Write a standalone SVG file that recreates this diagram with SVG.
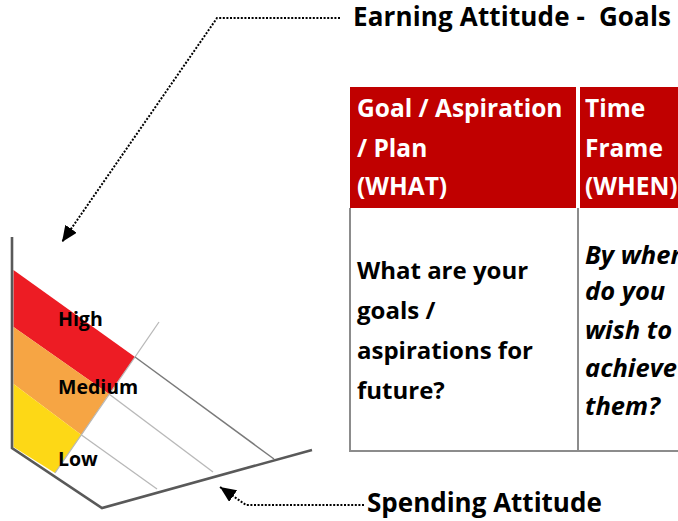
<svg xmlns="http://www.w3.org/2000/svg" width="678" height="521" viewBox="0 0 678 521">
  <style>
    .t { font-family: "Open Sans", "Liberation Sans", sans-serif; font-weight: 700; fill: #000; white-space: pre; }
    .hd { font-family: "Open Sans", "Liberation Sans", sans-serif; font-weight: 700; fill: #fff; font-size: 24.5px; }
    .bd { font-family: "Open Sans", "Liberation Sans", sans-serif; font-weight: 700; fill: #000; font-size: 24px; }
    .it { font-style: italic; font-size: 25.5px; }
    .lvl { font-family: "Open Sans", "Liberation Sans", sans-serif; font-weight: 700; fill: #000; font-size: 19.5px; }
    .dot { fill: none; stroke: #000; stroke-width: 2; stroke-dasharray: 2 1.6; }
    .axis { fill: none; stroke: #595959; stroke-width: 2.6; stroke-linejoin: miter; }
    .grid { fill: none; stroke: #b8b8b8; stroke-width: 1.3; }
    .gridd { fill: none; stroke: #7a7a7a; stroke-width: 1.5; }
    .hcell { fill: #c00000; }
    .rule { stroke: #8c8c8c; stroke-width: 2; fill: none; }
  </style>
  <defs>
    <marker id="arrow" markerUnits="userSpaceOnUse" markerWidth="18" markerHeight="16" refX="16" refY="7" orient="auto">
      <path d="M0,0 L16,7 L0,14 z" fill="#000"/>
    </marker>
  </defs>

  <!-- attitude chart -->
  <g id="chart">
    <polygon points="13.5,270 135,357 109,394 13.5,327" fill="#ed1c24"/>
    <polygon points="13.5,327 109,394 81.5,435 13.5,384" fill="#f6a544"/>
    <polygon points="13.5,384 81.5,435 55,473 13.5,447" fill="#fdd816"/>
    <line class="grid" x1="135" y1="357" x2="159" y2="322"/>
    <line class="grid" x1="135" y1="357" x2="55" y2="473" stroke="#999"/>
    <line class="gridd" x1="135" y1="357" x2="274" y2="459"/>
    <line class="grid" x1="109" y1="394" x2="213" y2="472"/>
    <line class="grid" x1="81.5" y1="435" x2="157" y2="489"/>
    <polyline class="axis" points="12,237 12,448 102,508 312,450"/>
  </g>

  <g id="level-high"><text class="lvl" x="58" y="326">High</text></g>
  <g id="level-medium"><text class="lvl" x="58" y="394">Medium</text></g>
  <g id="level-low"><text class="lvl" x="58" y="466">Low</text></g>

  <!-- goals table -->
  <g id="table-header-what">
    <rect class="hcell" x="350" y="87" width="226" height="121"/>
    <text class="hd" x="357" y="117">Goal / Aspiration</text>
    <text class="hd" x="357" y="157">/ Plan</text>
    <text class="hd" x="357" y="195">(WHAT)</text>
  </g>
  <g id="table-header-when">
    <rect class="hcell" x="580" y="87" width="100" height="121"/>
    <text class="hd" x="585" y="117">Time</text>
    <text class="hd" x="585" y="157">Frame</text>
    <text class="hd" x="585" y="195">(WHEN)</text>
  </g>
  <g id="table-body-what">
    <text class="bd" x="357" y="279">What are your</text>
    <text class="bd" x="357" y="319">goals /</text>
    <text class="bd" x="357" y="359">aspirations for</text>
    <text class="bd" x="357" y="399">future?</text>
  </g>
  <g id="table-body-when">
    <text class="bd it" x="585" y="264">By when</text>
    <text class="bd it" x="585" y="300">do you</text>
    <text class="bd it" x="585" y="339">wish to</text>
    <text class="bd it" x="585" y="377">achieve</text>
    <text class="bd it" x="585" y="415">them?</text>
  </g>
  <g id="table-rules">
    <polyline class="rule" points="350,208 350,451 680,451"/>
    <line class="rule" x1="578" y1="208" x2="578" y2="451"/>
  </g>

  <!-- captions -->
  <g id="earning-attitude"><text class="t" x="353" y="26" font-size="26" textLength="318" lengthAdjust="spacing">Earning Attitude -  Goals</text></g>
  <g id="spending-attitude"><text class="t" x="367" y="512" font-size="26">Spending Attitude</text></g>

  <!-- connectors -->
  <g id="connectors">
    <polyline class="dot" points="340,18 217,18 62,242" marker-end="url(#arrow)"/>
    <polyline class="dot" points="364,505 246,505 220,487" marker-end="url(#arrow)"/>
  </g>
</svg>
